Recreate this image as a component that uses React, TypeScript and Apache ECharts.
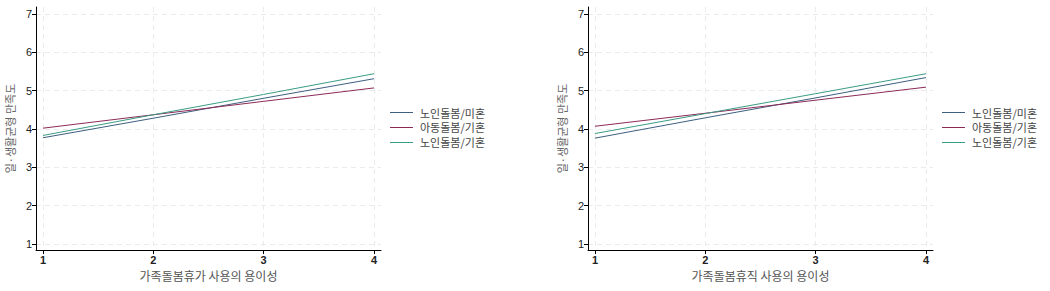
import React, { useEffect, useRef } from "react";
import * as echarts from "echarts";

const xValues = [1, 2, 3, 4];
const seriesNames = ["노인돌봄/미혼", "아동돌봄/기혼", "노인돌봄/기혼"];
const seriesColors = ["#3d5f80", "#8c2a57", "#3a9c84"];

// 가족돌봄휴가 (left panel)
const leftElderSingle = [3.77, 4.28, 4.8, 5.31];
const leftChildMarried = [4.02, 4.37, 4.72, 5.07];
const leftElderMarried = [3.83, 4.37, 4.9, 5.44];

// 가족돌봄휴직 (right panel)
const rightElderSingle = [3.76, 4.29, 4.81, 5.34];
const rightChildMarried = [4.07, 4.41, 4.75, 5.09];
const rightElderMarried = [3.88, 4.4, 4.92, 5.44];

const yTicks = [1, 2, 3, 4, 5, 6, 7];
const xTitleLeft = "가족돌봄휴가 사용의 용이성";
const xTitleRight = "가족돌봄휴직 사용의 용이성";
const yTitle = "일·생활균형 만족도";

const latin = "'Liberation Sans', Arial, sans-serif";
const korean = "'Noto Sans CJK KR', 'Liberation Sans', sans-serif";

function makeX(gridIndex: number, name: string) {
  return {
    type: "value",
    gridIndex,
    min: 0.937,
    max: 4.063,
    name,
    nameLocation: "middle",
    nameGap: 18,
    nameTextStyle: { fontFamily: korean, fontSize: 12, color: "#555" },
    axisLine: { show: true, onZero: false, lineStyle: { color: "#000", width: 1 } },
    axisTick: { show: true, length: 4, customValues: xValues, lineStyle: { color: "#000" } },
    axisLabel: { customValues: xValues, fontFamily: latin, fontSize: 11, color: "#222", margin: 4, fontWeight: "bold" },
    splitLine: { show: true, lineStyle: { color: "#ebebeb", type: [5, 4], width: 1 } },
  };
}

function makeY(gridIndex: number) {
  return {
    type: "value",
    gridIndex,
    min: 0.843,
    max: 7.18,
    name: yTitle,
    nameLocation: "middle",
    nameGap: 21,
    nameTextStyle: { fontFamily: korean, fontSize: 11, color: "#666" },
    axisLine: { show: true, onZero: false, lineStyle: { color: "#000", width: 1 } },
    axisTick: { show: true, length: 4, customValues: yTicks, lineStyle: { color: "#000" } },
    axisLabel: { customValues: yTicks, fontFamily: latin, fontSize: 11, color: "#222", margin: 4 },
    splitLine: { show: true, lineStyle: { color: "#ebebeb", type: [5, 4], width: 1 } },
  };
}

function makeSeries(name: string, values: number[], color: string, idx: number) {
  return {
    type: "line",
    name,
    xAxisIndex: idx,
    yAxisIndex: idx,
    data: xValues.map((x, i) => [x, values[i]]),
    symbol: "none",
    lineStyle: { color, width: 1 },
    itemStyle: { color },
    color,
  };
}

function makeLegend(left: number) {
  return {
    left,
    top: 107,
    orient: "vertical",
    icon: "rect",
    itemWidth: 23,
    itemHeight: 1,
    itemGap: 4,
    padding: 0,
    data: seriesNames,
    textStyle: { fontFamily: korean, fontSize: 11, color: "#444", padding: [0, 0, 0, 2] },
  };
}

export default function App() {
  const ref = useRef<HTMLDivElement>(null);
  useEffect(() => {
    if (!ref.current) return;
    const chart = echarts.init(ref.current, undefined, { renderer: "svg" });
    const leftData = [leftElderSingle, leftChildMarried, leftElderMarried];
    const rightData = [rightElderSingle, rightChildMarried, rightElderMarried];
    chart.setOption({
      animation: false,
      backgroundColor: "#fff",
      grid: [
        { left: 36, top: 7, width: 345, height: 243 },
        { left: 588, top: 7, width: 345, height: 243 },
      ],
      xAxis: [makeX(0, xTitleLeft), makeX(1, xTitleRight)],
      yAxis: [makeY(0), makeY(1)],
      legend: [makeLegend(390), makeLegend(942)],
      series: [
        ...seriesNames.map((n, i) => makeSeries(n, leftData[i], seriesColors[i], 0)),
        ...seriesNames.map((n, i) => makeSeries(n, rightData[i], seriesColors[i], 1)),
      ],
    });
    return () => chart.dispose();
  }, []);
  return (
    <div
      ref={ref}
      style={{ position: "absolute", left: 0, top: 0, width: 1050, height: 291 }}
    />
  );
}
